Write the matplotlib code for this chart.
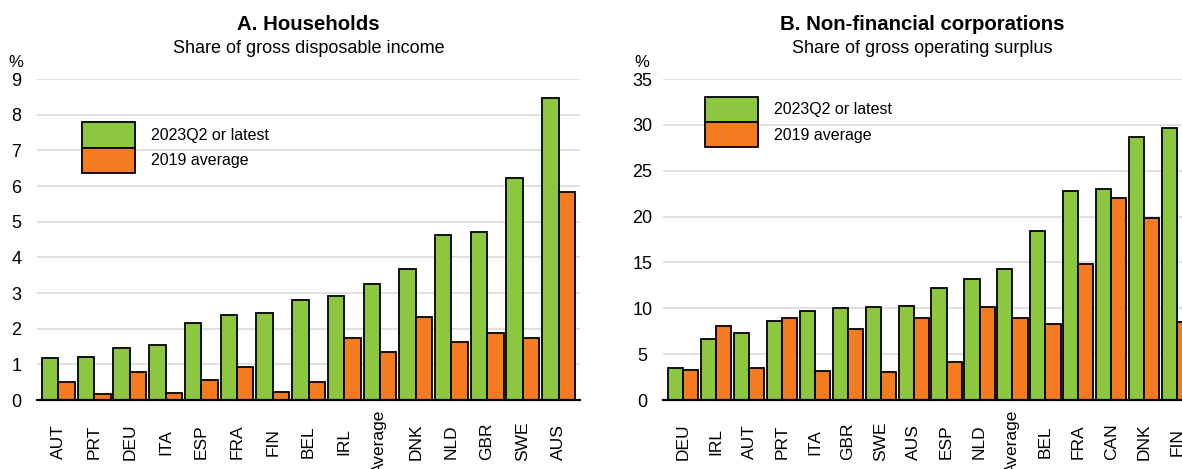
import numpy as np
import matplotlib
matplotlib.use('Agg')
import matplotlib.pyplot as plt

plt.rcParams['font.family'] = ['Liberation Sans', 'DejaVu Sans']

# Panel A: households
hh_names = ['AUT', 'PRT', 'DEU', 'ITA', 'ESP', 'FRA', 'FIN', 'BEL', 'IRL', 'Average',
            'DNK', 'NLD', 'GBR', 'SWE', 'AUS']
hh_latest = [1.17, 1.21, 1.45, 1.53, 2.17, 2.38, 2.43, 2.80, 2.91, 3.26,
             3.67, 4.63, 4.71, 6.22, 8.48]
hh_2019 = [0.50, 0.17, 0.79, 0.21, 0.55, 0.94, 0.23, 0.52, 1.75, 1.36,
           2.34, 1.62, 1.89, 1.75, 5.84]

# Panel B: non-financial corporations
nfc_names = ['DEU', 'IRL', 'AUT', 'PRT', 'ITA', 'GBR', 'SWE', 'AUS', 'ESP', 'NLD',
             'Average', 'BEL', 'FRA', 'CAN', 'DNK', 'FIN']
nfc_latest = [3.5, 6.7, 7.3, 8.6, 9.7, 10.0, 10.1, 10.3, 12.2, 13.2,
              14.3, 18.4, 22.8, 23.0, 28.7, 29.7]
nfc_2019 = [3.3, 8.1, 3.5, 8.9, 3.2, 7.7, 3.1, 8.9, 4.1, 10.1,
            9.0, 8.3, 14.8, 22.0, 19.9, 8.5]

green = '#8dc63f'
orange = '#f47b20'


def make_panel(ax, names, latest, prev, ymax, step, title, subtitle, legpos, xlim):
    x = np.arange(len(names))
    w = 0.46
    ax.bar(x - w / 2, latest, width=w, color=green, edgecolor='black', linewidth=1.3,
           label='2023Q2 or latest', zorder=3)
    ax.bar(x + w / 2, prev, width=w, color=orange, edgecolor='black', linewidth=1.3,
           label='2019 average', zorder=3)
    ax.set_ylim(0, ymax)
    ax.set_xlim(*xlim)
    ax.set_yticks(np.arange(0, ymax + 0.1, step))
    ax.set_xticks(x)
    # rotated labels centred vertically around a common line below the axis
    ax.set_xticklabels(names, rotation=90, fontsize=12.5, va='center')
    ax.tick_params(axis='y', length=0, labelsize=13, pad=15)
    ax.tick_params(axis='x', length=0, pad=30)
    for lab in ax.get_yticklabels():
        lab.set_horizontalalignment('center')
    ax.grid(axis='y', color='#dcdcdc', linewidth=1.2, zorder=0)
    for s in ['top', 'right', 'left']:
        ax.spines[s].set_visible(False)
    ax.spines['bottom'].set_linewidth(1.6)
    ax.spines['bottom'].set_zorder(4)
    bb = ax.get_position()
    cx = (bb.x0 + bb.x1) / 2
    fig.text(bb.x0 - 21 / 1182, 0.867, '%', ha='center', va='center', fontsize=12)
    fig.text(cx, 0.948, title, ha='center', va='center', fontsize=14.7, fontweight='bold')
    fig.text(cx, 0.897, subtitle, ha='center', va='center', fontsize=13)
    ax.legend(loc='upper left', bbox_to_anchor=legpos, frameon=False, fontsize=11.5,
              handlelength=3.3, handleheight=2.05, labelspacing=0.0, handletextpad=1.0,
              borderpad=0, borderaxespad=0)


fig = plt.figure(figsize=(11.82, 4.69), dpi=100)
ax1 = fig.add_axes([0.0313, 0.147, 0.4594, 0.6845])
ax2 = fig.add_axes([0.561, 0.147, 0.439, 0.6845])

make_panel(ax1, hh_names, hh_latest, hh_2019, 9, 1, 'A. Households',
           'Share of gross disposable income', (0.083, 0.865), (-0.6, 14.6))
make_panel(ax2, nfc_names, nfc_latest, nfc_2019, 35, 5, 'B. Non-financial corporations',
           'Share of gross operating surplus', (0.081, 0.945), (-0.61, 15.15))

fig.savefig('out.png', dpi=100)
